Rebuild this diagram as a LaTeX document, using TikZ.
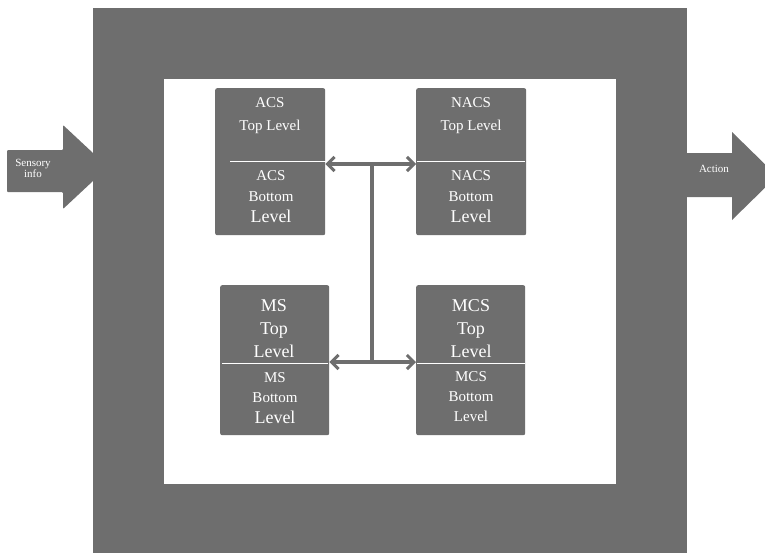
\documentclass[tikz,border=0pt]{standalone}
\usepackage{fontspec}
\setmainfont{Liberation Serif}
\usetikzlibrary{arrows.meta}
\definecolor{panelgray}{HTML}{6E6E6E}
\tikzset{
  subsys/.style={fill=panelgray, rounded corners=2pt, anchor=north west, inner sep=0pt,
    minimum width=110pt, minimum height=147pt},
  lbl/.style={text=white, align=center, inner sep=0pt},
  divider/.style={draw=white, line width=0.6pt},
  link/.style={draw=panelgray, line width=3.5pt,
    -{Straight Barb[length=7pt,width=14pt,line width=3pt]}},
  stem/.style={draw=panelgray, line width=3.5pt}
}
\newcommand{\fs}[2]{\fontsize{#1}{#2}\selectfont}
\begin{document}
\begin{tikzpicture}[x=1pt,y=-1pt]
  \useasboundingbox (0,0) rectangle (765,552);
  % input and output arrows
  \fill[panelgray, rounded corners=1pt] (7,150) -- (63,150) -- (63,125) -- (108,167)
    -- (63,209) -- (63,192) -- (7,192) -- cycle;
  \fill[panelgray] (680,153) -- (732,153) -- (732,132) -- (777,176)
    -- (732,220) -- (732,197) -- (680,197) -- cycle;
  \node[lbl, font=\fs{11}{11}] (sensory) at (33,168) {Sensory\\info};
  \node[lbl, font=\fs{11}{11}] (action) at (714,169) {Action};
  % agent frame
  \node[fill=panelgray, anchor=north west, inner sep=0pt, minimum width=594pt,
    minimum height=560pt] (agent) at (93,8) {};
  \node[fill=white, anchor=north west, inner sep=0pt, minimum width=452pt,
    minimum height=405pt] (workspace) at (164,79) {};
  % subsystems
  \node[subsys] (acs) at (215,88) {};
  \node[subsys] (nacs) at (416,88) {};
  \node[subsys, minimum width=109pt, minimum height=150pt] (ms) at (220,285) {};
  \node[subsys, minimum width=109pt, minimum height=150pt] (mcs) at (416,285) {};
  \draw[divider] (230,161) -- (326,161);
  \draw[divider] (417,161) -- (525,161);
  \draw[divider] (222,363) -- (328,363);
  \draw[divider] (417,363) -- (525,363);
  % labels
  \node[lbl, font=\fs{15}{23}] (acstop) at (270,116) {ACS\\Top Level};
  \node[lbl, font=\fs{15}{21}] (acsbot) at (271,197) {ACS\\Bottom\\{\fs{18}{21}Level}};
  \node[lbl, font=\fs{15}{23}] (nacstop) at (471,116) {NACS\\Top Level};
  \node[lbl, font=\fs{15}{21}] (nacsbot) at (471,197) {NACS\\Bottom\\{\fs{18}{21}Level}};
  \node[lbl, font=\fs{18}{23}] (mstop) at (274,329) {MS\\Top\\Level};
  \node[lbl, font=\fs{15}{20.5}] (msbot) at (275,398) {MS\\Bottom\\{\fs{18}{20.5}Level}};
  \node[lbl, font=\fs{18}{23}] (mcstop) at (471,329) {MCS\\Top\\Level};
  \node[lbl, font=\fs{15}{20}] (mcsbot) at (471,397) {MCS\\Bottom\\Level};
  % links between subsystems
  \coordinate (hubtop) at (372,164);
  \coordinate (hubbot) at (372,362);
  \draw[stem] (hubtop) -- (hubbot);
  \draw[link] (hubtop) -- (hubtop -| acs.east);
  \draw[link] (hubtop) -- (hubtop -| nacs.west);
  \draw[link] (hubbot) -- (hubbot -| ms.east);
  \draw[link] (hubbot) -- (hubbot -| mcs.west);
\end{tikzpicture}
\end{document}
